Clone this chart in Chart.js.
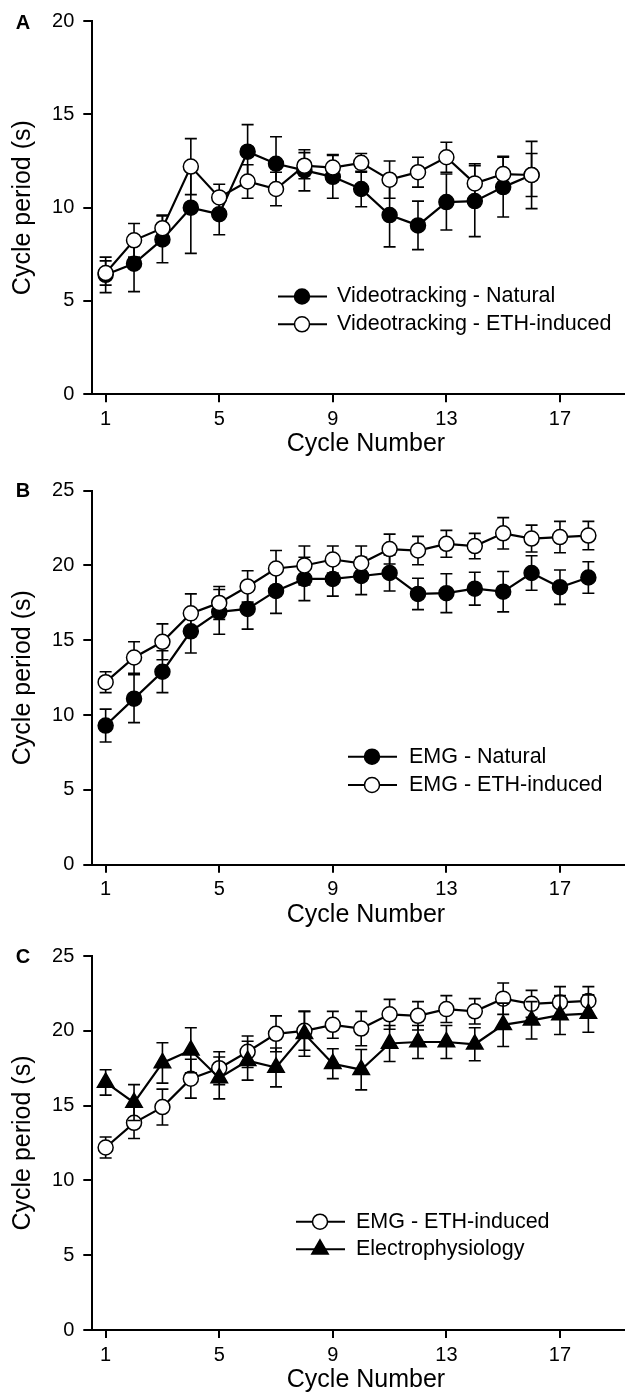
<!DOCTYPE html>
<html>
<head>
<meta charset="utf-8">
<script src="https://cdn.jsdelivr.net/npm/chart.js@4.4.1/dist/chart.umd.min.js"></script>
<style>
  html, body { margin: 0; padding: 0; background: #fff; }
  #wrap { position: relative; width: 625px; height: 1393px; }
  canvas { position: absolute; left: 0; }
</style>
</head>
<body>
<div id="wrap">
  <canvas id="chartA" width="625" height="460" style="top:0px"></canvas>
  <canvas id="chartB" width="625" height="470" style="top:460px"></canvas>
  <canvas id="chartC" width="625" height="463" style="top:930px"></canvas>
</div>
<script>
// shared axes
const cycleNumbers = [1, 2, 3, 4, 5, 6, 7, 8, 9, 10, 11, 12, 13, 14, 15, 16, 17, 18];
const xTicks = [1, 5, 9, 13, 17];
const yTicksA = [0, 5, 10, 15, 20];
const yTicksBC = [0, 5, 10, 15, 20, 25];

// panel A - videotracking
const videoNatural = [6.4, 7.0, 8.3, 10.0, 9.65, 13.0, 12.35, 12.0, 11.65, 11.0, 9.6, 9.05, 10.3, 10.35, 11.1, 11.75];
const videoNaturalErr = [0.95, 1.5, 1.25, 2.45, 1.1, 1.45, 1.45, 1.1, 1.15, 0.95, 1.7, 1.3, 1.5, 1.9, 1.6, 1.15];
const videoEth = [6.5, 8.25, 8.9, 12.2, 10.55, 11.4, 11.0, 12.25, 12.15, 12.4, 11.5, 11.9, 12.7, 11.3, 11.8, 11.75];
const videoEthErr = [0.65, 0.9, 0.7, 1.5, 0.7, 0.9, 0.9, 0.7, 0.7, 0.5, 1.0, 0.8, 0.8, 1.05, 0.95, 1.8];

// panel B - EMG
const emgNatural = [9.3, 11.1, 12.9, 15.6, 16.9, 17.1, 18.3, 19.1, 19.1, 19.3, 19.5, 18.1, 18.15, 18.45, 18.25, 19.5, 18.55, 19.2];
const emgNaturalErr = [1.1, 1.6, 1.4, 1.45, 1.5, 1.35, 1.5, 1.45, 1.15, 1.25, 1.2, 1.05, 1.3, 1.1, 1.35, 1.15, 1.15, 1.05];
const emgEth = [12.2, 13.85, 14.9, 16.8, 17.5, 18.6, 19.8, 20.0, 20.4, 20.15, 21.1, 21.0, 21.45, 21.3, 22.15, 21.8, 21.9, 22.0];
const emgEthErr = [0.7, 1.05, 1.2, 1.3, 1.1, 1.05, 1.2, 1.3, 0.9, 1.15, 1.0, 0.95, 0.9, 0.85, 1.05, 0.9, 1.05, 0.95];

// panel C - electrophysiology (plus EMG ETH-induced again)
const electro = [16.55, 15.2, 17.85, 18.7, 16.85, 18.0, 17.55, 19.8, 17.8, 17.4, 19.15, 19.25, 19.25, 19.1, 20.4, 20.7, 21.05, 21.15];
const electroErr = [0.85, 1.2, 1.35, 1.5, 1.4, 1.3, 1.3, 1.5, 1.0, 1.35, 1.2, 1.1, 1.1, 1.1, 1.45, 1.25, 1.3, 1.25];

const FONT = "'Liberation Sans', Arial, sans-serif";

function points(values) {
  return values.map((v, i) => ({ x: cycleNumbers[i], y: v }));
}

const filled = { shape: 'circle', radius: 7.5, fill: '#000' };
const open = { shape: 'circle', radius: 7.5, fill: '#fff' };
const tri = { shape: 'triangle', radius: 9.5, fill: '#000' };

function series(label, values, errors, marker, order) {
  return {
    label,
    data: points(values),
    errors,
    marker,
    order,
    borderColor: '#000',
    borderWidth: 2.2,
    pointStyle: marker.shape,
    pointRadius: marker.radius,
    pointBackgroundColor: marker.fill,
    pointBorderColor: '#000',
    pointBorderWidth: 1.5,
    tension: 0,
    fill: false
  };
}

// error bars drawn just before each dataset so its markers sit on top
const errorBars = {
  id: 'errorBars',
  beforeDatasetDraw(chart, args) {
    const ds = chart.data.datasets[args.index];
    if (!ds.errors) return;
    const ys = chart.scales.y;
    const ctx = chart.ctx;
    ctx.save();
    ctx.strokeStyle = '#000';
    ctx.lineWidth = 1.6;
    args.meta.data.forEach((pt, i) => {
      const v = ds.data[i].y, e = ds.errors[i];
      const top = ys.getPixelForValue(v + e), bot = ys.getPixelForValue(v - e);
      ctx.beginPath();
      ctx.moveTo(pt.x, top); ctx.lineTo(pt.x, bot);
      ctx.moveTo(pt.x - 6, top); ctx.lineTo(pt.x + 6, top);
      ctx.moveTo(pt.x - 6, bot); ctx.lineTo(pt.x + 6, bot);
      ctx.stroke();
    });
    ctx.restore();
  }
};

function drawMarker(ctx, m, x, y) {
  ctx.beginPath();
  if (m.shape === 'triangle') {
    const r = m.radius;
    ctx.moveTo(x, y - r);
    ctx.lineTo(x + r * Math.sin(Math.PI / 3), y + r / 2);
    ctx.lineTo(x - r * Math.sin(Math.PI / 3), y + r / 2);
    ctx.closePath();
  } else {
    ctx.arc(x, y, m.radius, 0, Math.PI * 2);
  }
  ctx.fillStyle = m.fill;
  ctx.fill();
  ctx.lineWidth = 1.5;
  ctx.strokeStyle = '#000';
  ctx.stroke();
}

const panelText = {
  id: 'panelText',
  afterDraw(chart, args, opts) {
    const ctx = chart.ctx;
    ctx.save();
    ctx.fillStyle = '#000';
    ctx.textBaseline = 'middle';
    // panel letter
    ctx.font = 'bold 20px ' + FONT;
    ctx.textAlign = 'center';
    ctx.fillText(opts.letter, 23, opts.letterY);
    // x title
    ctx.font = '25px ' + FONT;
    ctx.fillText('Cycle Number', opts.xTitleX, opts.xTitleY);
    // legend
    ctx.textAlign = 'left';
    ctx.font = '21.5px ' + FONT;
    const lg = opts.legend;
    chart.data.datasets.slice().sort((a, b) => a.legendRank - b.legendRank).forEach((ds, i) => {
      const y = lg.rows[i];
      ctx.beginPath();
      ctx.strokeStyle = '#000';
      ctx.lineWidth = 2;
      ctx.moveTo(lg.x0, y); ctx.lineTo(lg.x1, y);
      ctx.stroke();
      drawMarker(ctx, ds.marker, lg.xm, y);
      ctx.fillStyle = '#000';
      ctx.fillText(ds.label, lg.xt, y);
    });
    ctx.restore();
  }
};

function makePanel(id, cfg) {
  const tickFont = { family: FONT, size: 20 };
  return new Chart(document.getElementById(id), {
    type: 'line',
    data: { datasets: cfg.datasets },
    options: {
      responsive: false,
      animation: false,
      layout: { autoPadding: false, padding: { top: cfg.top, left: 0, right: 0, bottom: 0 } },
      plugins: {
        legend: { display: false },
        tooltip: { enabled: false },
        panelText: cfg.text
      },
      scales: {
        x: {
          type: 'linear',
          min: 0.53,
          max: 19.29,
          afterBuildTicks: s => { s.ticks = xTicks.map(v => ({ value: v })); },
          afterFit: s => { s.height = cfg.xHeight; s.paddingLeft = 0; s.paddingRight = 0; },
          grid: { drawOnChartArea: false, drawTicks: true, tickLength: 8, color: '#000', lineWidth: 2 },
          border: { display: true, color: '#000', width: 2 },
          ticks: { font: tickFont, color: '#000', padding: 5, maxRotation: 0 }
        },
        y: {
          min: 0,
          max: cfg.yTicks[cfg.yTicks.length - 1],
          afterBuildTicks: s => { s.ticks = cfg.yTicks.map(v => ({ value: v })); },
          afterFit: s => { s.width = 92.3; },
          grid: { drawOnChartArea: false, drawTicks: true, tickLength: 9, color: '#000', lineWidth: 2 },
          border: { display: true, color: '#000', width: 2 },
          ticks: { font: tickFont, color: '#000', padding: 9 },
          title: {
            display: true,
            text: 'Cycle period (s)',
            color: '#000',
            font: { family: FONT, size: 25 },
            padding: { top: 8 }
          }
        }
      }
    },
    plugins: [errorBars, panelText]
  });
}

const natA = series('Videotracking - Natural', videoNatural, videoNaturalErr, filled, 1);
natA.legendRank = 0;
const ethA = series('Videotracking - ETH-induced', videoEth, videoEthErr, open, 0);
ethA.legendRank = 1;
makePanel('chartA', {
  top: 21, xHeight: 460 - 394.3, yTicks: yTicksA,
  datasets: [natA, ethA],
  text: {
    letter: 'A', letterY: 23, xTitleX: 366, xTitleY: 444,
    legend: { rows: [296.5, 324.3], x0: 278, x1: 327, xm: 302, xt: 337 }
  }
});

const natB = series('EMG - Natural', emgNatural, emgNaturalErr, filled, 1);
natB.legendRank = 0;
const ethB = series('EMG - ETH-induced', emgEth, emgEthErr, open, 0);
ethB.legendRank = 1;
makePanel('chartB', {
  top: 30.7, xHeight: 470 - 404.7, yTicks: yTicksBC,
  datasets: [natB, ethB],
  text: {
    letter: 'B', letterY: 31, xTitleX: 366, xTitleY: 455,
    legend: { rows: [296.7, 325], x0: 348, x1: 397, xm: 372, xt: 409 }
  }
});

const ethC = series('EMG - ETH-induced', emgEth, emgEthErr, open, 1);
ethC.legendRank = 0;
const elC = series('Electrophysiology', electro, electroErr, tri, 0);
elC.legendRank = 1;
makePanel('chartC', {
  top: 26, xHeight: 463 - 400, yTicks: yTicksBC,
  datasets: [ethC, elC],
  text: {
    letter: 'C', letterY: 27, xTitleX: 366, xTitleY: 450,
    legend: { rows: [291.7, 319.3], x0: 296, x1: 345, xm: 320, xt: 356 }
  }
});
</script>
</body>
</html>
